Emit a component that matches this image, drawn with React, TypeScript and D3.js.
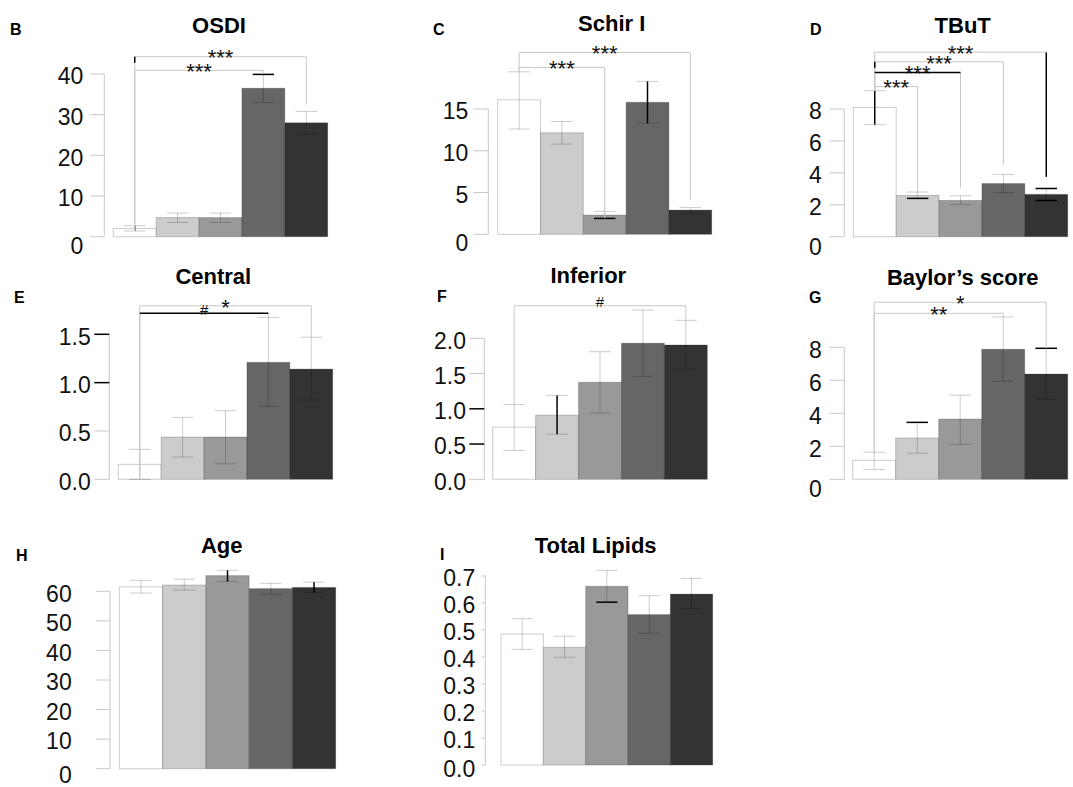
import * as d3 from "d3";

const FONT = "'Liberation Sans', Arial, Helvetica, sans-serif";
const barFills = ["#ffffff", "#cccccc", "#999999", "#666666", "#333333"];
const groupIdx = [0, 1, 2, 3, 4];

// B - OSDI
const osdiMean = [2.0, 4.7, 4.7, 36.5, 28.0];
const osdiLow = [1.4, 3.5, 3.5, 33.0, 25.2];
const osdiHigh = [2.7, 5.8, 5.8, 39.9, 30.8];
const osdiTicks = [0, 10, 20, 30, 40];

// C - Schirmer I
const schirMean = [16.1, 12.15, 2.3, 15.8, 2.9];
const schirLow = [12.6, 10.8, 1.9, 13.3, 2.5];
const schirHigh = [19.45, 13.5, 2.75, 18.3, 3.2];
const schirTicks = [0, 5, 10, 15];

// D - TBuT
const tbutMean = [8.1, 2.58, 2.27, 3.33, 2.65];
const tbutLow = [7.02, 2.4, 2.02, 2.77, 2.27];
const tbutHigh = [9.15, 2.8, 2.56, 3.9, 3.02];
const tbutTicks = [0, 2, 4, 6, 8];

// E - Central
const centralMean = [0.155, 0.437, 0.437, 1.21, 1.14];
const centralLow = [0.0, 0.23, 0.16, 0.755, 0.82];
const centralHigh = [0.31, 0.64, 0.71, 1.675, 1.47];
const centralTicks = [0, 0.5, 1.0, 1.5];

// F - Inferior
const inferiorMean = [0.74, 0.91, 1.376, 1.93, 1.905];
const inferiorLow = [0.41, 0.64, 0.94, 1.46, 1.56];
const inferiorHigh = [1.06, 1.19, 1.81, 2.4, 2.255];
const inferiorTicks = [0, 0.5, 1.0, 1.5, 2.0];

// G - Baylor's score
const baylorMean = [1.15, 2.5, 3.65, 7.88, 6.38];
const baylorLow = [0.6, 1.58, 2.12, 5.94, 4.85];
const baylorHigh = [1.64, 3.45, 5.1, 9.84, 7.94];
const baylorTicks = [0, 2, 4, 6, 8];

// H - Age
const ageMean = [61.5, 62.1, 65.3, 60.9, 61.3];
const ageLow = [59.4, 60.4, 63.3, 59.0, 59.6];
const ageHigh = [63.7, 64.1, 67.1, 62.7, 63.1];
const ageTicks = [0, 10, 20, 30, 40, 50, 60];

// I - Total lipids
const lipidMean = [0.485, 0.436, 0.662, 0.557, 0.633];
const lipidLow = [0.428, 0.399, 0.603, 0.488, 0.58];
const lipidHigh = [0.542, 0.477, 0.721, 0.627, 0.691];
const lipidTicks = [0, 0.1, 0.2, 0.3, 0.4, 0.5, 0.6, 0.7];

type Bracket = { from: number; to: number; at: number; left: number; right: number; label: string; dark: string };

// significance brackets (levels in data units)
const osdiBrackets: Bracket[] = [
    { from: 0, to: 4, at: 44.25, left: 1.4, right: 32.5, label: "***", dark: "n" },
    { from: 0, to: 3, at: 40.9, left: 1.4, right: 40.0, label: "***", dark: "" },
];
const schirBrackets: Bracket[] = [
    { from: 0, to: 4, at: 21.77, left: 19.45, right: 4.1, label: "***", dark: "" },
    { from: 0, to: 2, at: 19.98, left: 19.45, right: 1.9, label: "***", dark: "" },
];
const tbutBrackets: Bracket[] = [
    { from: 0, to: 4, at: 11.56, left: 9.15, right: 3.75, label: "***", dark: "r" },
    { from: 0, to: 3, at: 10.96, left: 9.15, right: 4.5, label: "***", dark: "n" },
    { from: 0, to: 2, at: 10.29, left: 9.15, right: 3.06, label: "***", dark: "h" },
    { from: 0, to: 1, at: 9.4, left: 9.15, right: 2.8, label: "***", dark: "" },
];
const centralBrackets: Bracket[] = [
    { from: 0, to: 4, at: 1.795, left: 0, right: 1.47, label: "*", dark: "" },
    { from: 0, to: 3, at: 1.717, left: 0, right: 1.675, label: "#", dark: "h" },
];
const inferiorBrackets: Bracket[] = [
    { from: 0, to: 4, at: 2.462, left: 1.06, right: 2.255, label: "#", dark: "" },
];
const baylorBrackets: Bracket[] = [
    { from: 0, to: 4, at: 10.73, left: 1.64, right: 7.94, label: "*", dark: "" },
    { from: 0, to: 3, at: 10.06, left: 1.64, right: 9.84, label: "**", dark: "" },
];

type Panel = {
    letter: string;
    title: string;
    mean: number[];
    low: number[];
    high: number[];
    ticks: number[];
    fmt: string;
    brackets: Bracket[];
    darkErr: string[];
    darkTicks: number[];
};

const panels: Panel[] = [
    { letter: "B", title: "OSDI", mean: osdiMean, low: osdiLow, high: osdiHigh, ticks: osdiTicks, fmt: "d", brackets: osdiBrackets, darkErr: ["s", "", "", "t", ""], darkTicks: [] },
    { letter: "C", title: "Schir I", mean: schirMean, low: schirLow, high: schirHigh, ticks: schirTicks, fmt: "d", brackets: schirBrackets, darkErr: ["", "", "b", "s", ""], darkTicks: [] },
    { letter: "D", title: "TBuT", mean: tbutMean, low: tbutLow, high: tbutHigh, ticks: tbutTicks, fmt: "d", brackets: tbutBrackets, darkErr: ["s", "b", "", "", "tb"], darkTicks: [] },
    { letter: "E", title: "Central", mean: centralMean, low: centralLow, high: centralHigh, ticks: centralTicks, fmt: ".1f", brackets: centralBrackets, darkErr: ["", "", "", "", ""], darkTicks: [1.0, 1.5] },
    { letter: "F", title: "Inferior", mean: inferiorMean, low: inferiorLow, high: inferiorHigh, ticks: inferiorTicks, fmt: ".1f", brackets: inferiorBrackets, darkErr: ["", "s", "", "", ""], darkTicks: [0.5, 1.0] },
    { letter: "G", title: "Baylor\u2019s score", mean: baylorMean, low: baylorLow, high: baylorHigh, ticks: baylorTicks, fmt: "d", brackets: baylorBrackets, darkErr: ["", "t", "", "", "t"], darkTicks: [] },
    { letter: "H", title: "Age", mean: ageMean, low: ageLow, high: ageHigh, ticks: ageTicks, fmt: "d", brackets: [], darkErr: ["", "", "s", "", "s"], darkTicks: [] },
    { letter: "I", title: "Total Lipids", mean: lipidMean, low: lipidLow, high: lipidHigh, ticks: lipidTicks, fmt: ".1f", brackets: [], darkErr: ["", "", "b", "", ""], darkTicks: [] },
];

type Layout = {
    axisX: number; x0: number; x1: number; y0: number; yTop: number;
    tickLen: number; gap: number; titleX: number; titleY: number;
    letterX: number; letterY: number; zeroDy: number;
};

const layouts: Layout[] = [
    { axisX: 104.3, x0: 113.3, x1: 327.7, y0: 236.7, yTop: 74, tickLen: 14, gap: 7, titleX: 219, titleY: 33, letterX: 10, letterY: 35, zeroDy: 7 },
    { axisX: 488.3, x0: 497.7, x1: 711.7, y0: 234.3, yTop: 109, tickLen: 15, gap: 5, titleX: 611.7, titleY: 31, letterX: 433, letterY: 35, zeroDy: 6 },
    { axisX: 844.3, x0: 853.3, x1: 1067.7, y0: 236.7, yTop: 109, tickLen: 15, gap: 7.5, titleX: 962.7, titleY: 33, letterX: 810, letterY: 35, zeroDy: 8 },
    { axisX: 109.3, x0: 118.3, x1: 332.7, y0: 479.3, yTop: 334.3, tickLen: 15, gap: 3.6, titleX: 213.3, titleY: 284, letterX: 14, letterY: 303, zeroDy: 0 },
    { axisX: 484.3, x0: 492.7, x1: 707.3, y0: 479.3, yTop: 338.3, tickLen: 15, gap: 3.3, titleX: 588.3, titleY: 283, letterX: 437, letterY: 302, zeroDy: 0 },
    { axisX: 844.3, x0: 852.7, x1: 1067.7, y0: 479.3, yTop: 347.3, tickLen: 15, gap: 7.6, titleX: 962.7, titleY: 285, letterX: 809, letterY: 303, zeroDy: 7 },
    { axisX: 110, x0: 119.3, x1: 335.7, y0: 768.7, yTop: 591.3, tickLen: 14.3, gap: 24, titleX: 221.7, titleY: 553, letterX: 16, letterY: 561, zeroDy: 4 },
    { axisX: 485.3, x0: 501, x1: 712.7, y0: 765, yTop: 576, tickLen: 4, gap: 6, titleX: 595.7, titleY: 553, letterX: 440, letterY: 560, zeroDy: 2 },
];

const GRAY = "#c8c8c8";
const ERR = "rgba(0,0,0,0.2)";
const TICK_FS = 23;

function BarPanel({ p, l }: { p: Panel; l: Layout }) {
    const x = d3.scaleBand<number>().domain(groupIdx).range([l.x0, l.x1]).padding(0);
    const y = d3.scaleLinear().domain([0, d3.max(p.ticks) ?? 1]).range([l.y0, l.yTop]);
    const bw = x.bandwidth();
    const cx = (i: number) => (x(i) ?? 0) + bw / 2;
    const cap = bw / 2;
    const fmt = d3.format(p.fmt);

    return (
        <g>
            <text x={l.letterX} y={l.letterY} fontFamily={FONT} fontWeight="bold" fontSize={16} fill="#000">
                {p.letter}
            </text>
            <text x={l.titleX} y={l.titleY} textAnchor="middle" fontFamily={FONT} fontWeight="bold" fontSize={22} fill="#000">
                {p.title}
            </text>

            {/* y axis */}
            <line x1={l.axisX} x2={l.axisX} y1={y(0)} y2={y(d3.max(p.ticks) ?? 1)} stroke={GRAY} />
            {p.ticks.map((t) => {
                const dark = p.darkTicks.some((d) => Math.abs(d - t) < 1e-9);
                const ty = y(t);
                return (
                    <g key={t}>
                        <line x1={l.axisX - l.tickLen} x2={l.axisX} y1={ty} y2={ty} stroke={dark ? "#000" : GRAY} strokeWidth={dark ? 1.5 : 1} />
                        <text
                            x={l.axisX - l.tickLen - l.gap}
                            y={ty + TICK_FS * 0.36 + 2 + (t === 0 ? l.zeroDy : 0)}
                            textAnchor="end"
                            fontFamily={FONT}
                            fontSize={TICK_FS}
                            fill="#111"
                        >
                            {fmt(t)}
                        </text>
                    </g>
                );
            })}

            {/* bars */}
            {p.mean.map((v, i) => (
                <rect key={i} x={x(i)} y={y(v)} width={bw} height={y(0) - y(v)} fill={barFills[i]} stroke={ERR} strokeWidth={1} />
            ))}

            {/* error bars */}
            {p.mean.map((_, i) => {
                const c = cx(i);
                const hi = y(p.high[i]);
                const lo = y(p.low[i]);
                const dk = p.darkErr[i];
                return (
                    <g key={i}>
                        <line x1={c} x2={c} y1={hi} y2={lo} stroke={dk.includes("s") ? "#000" : ERR} strokeWidth={dk.includes("s") ? 1.5 : 1} />
                        <line x1={c - cap / 2} x2={c + cap / 2} y1={hi} y2={hi} stroke={dk.includes("t") ? "#000" : ERR} strokeWidth={dk.includes("t") ? 1.5 : 1} />
                        <line x1={c - cap / 2} x2={c + cap / 2} y1={lo} y2={lo} stroke={dk.includes("b") ? "#000" : ERR} strokeWidth={dk.includes("b") ? 1.5 : 1} />
                    </g>
                );
            })}

            {/* significance brackets */}
            {p.brackets.map((b, k) => {
                const xa = cx(b.from);
                const xb = cx(b.to);
                const yb = y(b.at);
                const isHash = b.label.includes("#");
                const fs = isHash ? 15 : 22;
                const lift = isHash ? 0.36 * fs : 0.58 * fs;
                return (
                    <g key={k}>
                        <line x1={xa} x2={xa} y1={yb} y2={y(b.left)} stroke={GRAY} />
                        <line x1={xb} x2={xb} y1={yb} y2={y(b.right)} stroke={b.dark.includes("r") ? "#000" : GRAY} strokeWidth={b.dark.includes("r") ? 1.5 : 1} />
                        <line x1={xa} x2={xb} y1={yb} y2={yb} stroke={b.dark.includes("h") ? "#000" : GRAY} strokeWidth={b.dark.includes("h") ? 1.5 : 1} />
                        {b.dark.includes("n") && <line x1={xa} x2={xa} y1={yb} y2={yb + 6} stroke="#000" strokeWidth={1.5} />}
                        <text x={(xa + xb) / 2} y={yb - 4 + lift} textAnchor="middle" fontFamily={FONT} fontSize={fs} fill="#111">
                            {b.label}
                        </text>
                    </g>
                );
            })}
        </g>
    );
}

export default function App() {
    return (
        <svg width={1073} height={787} style={{ position: "absolute", left: 0, top: 0, background: "#fff" }}>
            <rect width={1073} height={787} fill="#fff" />
            {panels.map((p, i) => (
                <BarPanel key={p.letter} p={p} l={layouts[i]} />
            ))}
        </svg>
    );
}
